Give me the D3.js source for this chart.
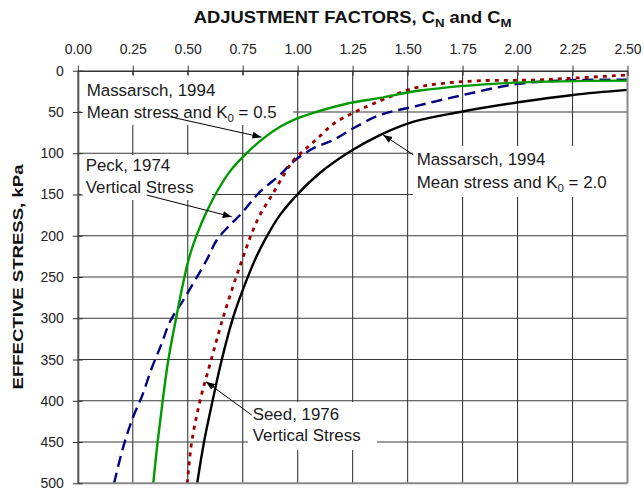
<!DOCTYPE html>
<html>
<head>
<meta charset="utf-8">
<script src="https://cdn.jsdelivr.net/npm/d3@7"></script>
<style>
  html, body { margin: 0; padding: 0; background: #fff; }
  svg { display: block; }
  text { white-space: pre; }
</style>
</head>
<body>
<script>
// Axis ticks: adjustment factor (C_N, C_M) across the top, effective stress (kPa) down the side
const factorTicks = [0, 0.25, 0.5, 0.75, 1.0, 1.25, 1.5, 1.75, 2.0, 2.25, 2.5];
const stressTicks = [0, 50, 100, 150, 200, 250, 300, 350, 400, 450, 500];

// Massarsch (1994), mean stress with K0 = 0.5
const massarsch05Stress = [500, 450, 400, 350, 300, 250, 225, 199, 171, 147, 122, 100, 82, 68, 58, 51, 40, 33, 24, 14.5, 12];
const massarsch05Factor = [0.343, 0.363, 0.386, 0.412, 0.447, 0.485, 0.508, 0.541, 0.586, 0.632, 0.692, 0.768, 0.844, 0.92, 0.995, 1.071, 1.223, 1.374, 1.556, 1.98, 2.5];

// Massarsch (1994), mean stress with K0 = 2.0
const massarsch20Stress = [500, 450, 400, 351, 301, 278, 229, 201, 175, 151, 124, 98, 78, 62, 50, 38, 29.4, 23.3];
const massarsch20Factor = [0.543, 0.574, 0.613, 0.654, 0.704, 0.733, 0.806, 0.859, 0.919, 0.995, 1.101, 1.238, 1.374, 1.524, 1.738, 2.011, 2.252, 2.5];

// Seed (1976), vertical stress
const seedStress = [500, 450, 400, 350, 300, 250, 225, 200, 175, 150, 125, 108, 94, 82, 64, 51, 40, 21.3, 15.3, 12.1, 11.3, 8.8, 5.2];
const seedFactor = [0.498, 0.518, 0.556, 0.607, 0.66, 0.72, 0.753, 0.787, 0.828, 0.885, 0.94, 0.983, 1.04, 1.09, 1.165, 1.253, 1.344, 1.526, 1.662, 1.829, 2.07, 2.269, 2.5];

// Peck (1974), vertical stress
const peckStress = [500, 455.6, 419.3, 395, 360.6, 330.3, 304.2, 277.9, 229.4, 205.2, 187, 174.9, 160.7, 146.6, 126.4, 110.3, 94, 84, 69.8, 53.7, 43.6, 29.4, 16, 11.5, 11];
const peckFactor = [0.165, 0.207, 0.252, 0.291, 0.336, 0.382, 0.419, 0.48, 0.586, 0.632, 0.692, 0.738, 0.783, 0.829, 0.919, 0.98, 1.071, 1.162, 1.253, 1.374, 1.526, 1.753, 2.0, 2.25, 2.5];

// Callout text (segments flagged sub are subscripts)
const noteMassarsch05 = [[{t: "Massarsch, 1994"}], [{t: "Mean stress and K"}, {t: "0", sub: true}, {t: " = 0.5"}]];
const notePeck = [[{t: "Peck, 1974"}], [{t: "Vertical Stress"}]];
const noteMassarsch20 = [[{t: "Massarsch, 1994"}], [{t: "Mean stress and K"}, {t: "0", sub: true}, {t: " = 2.0"}]];
const noteSeed = [[{t: "Seed, 1976"}], [{t: "Vertical Stress"}]];

// Arrow tail and tip for each callout, in [factor, stress]
const arrowMassarsch05 = [[0.419, 55.8], [0.835, 80.5]];
const arrowPeck = [[0.313, 150.7], [0.70, 177]];
const arrowMassarsch20 = [[1.526, 102], [1.389, 77.9]];
const arrowSeed = [[0.791, 417.3], [0.583, 376.9]];

const W = 644, H = 491;
const FONT = "'Liberation Sans', Arial, Helvetica, sans-serif";
const plot = {left: 77.8, right: 627.5, top: 70.7, bottom: 483.3};

const x = d3.scaleLinear().domain([0, 2.5]).range([plot.left, plot.right]);
const y = d3.scaleLinear().domain([0, 500]).range([plot.top, plot.bottom]);

const svg = d3.select("body").append("svg")
  .attr("width", W).attr("height", H)
  .attr("font-family", FONT);

// Grid
const grid = svg.append("g").attr("stroke", "#3a3a3a").attr("stroke-width", 1.1);
grid.selectAll("line.v").data(factorTicks.slice(1, -1)).join("line")
  .attr("class", "v")
  .attr("x1", d => x(d)).attr("x2", d => x(d))
  .attr("y1", y(0)).attr("y2", y(500));
grid.selectAll("line.h").data(stressTicks.slice(1, -1)).join("line")
  .attr("class", "h")
  .attr("x1", x(0)).attr("x2", x(2.5))
  .attr("y1", d => y(d)).attr("y2", d => y(d));

// White callout boxes sit over the grid
const boxes = [
  {x0: 81, y0: 75, x1: 293, y1: 125},
  {x0: 81, y0: 155, x1: 212, y1: 200},
  {x0: 413, y0: 146, x1: 627, y1: 197},
  {x0: 248, y0: 402, x1: 377, y1: 450}
];
svg.append("g").selectAll("rect").data(boxes).join("rect")
  .attr("x", d => d.x0).attr("y", d => d.y0)
  .attr("width", d => d.x1 - d.x0).attr("height", d => d.y1 - d.y0)
  .attr("fill", "#fff");

// Curves
const series = [
  {f: peckFactor, s: peckStress, color: "#000080", width: 2.4, dash: "11,6"},
  {f: seedFactor, s: seedStress, color: "#990000", width: 2.8, dash: "4,5"},
  {f: massarsch20Factor, s: massarsch20Stress, color: "#000000", width: 2.4, dash: null},
  {f: massarsch05Factor, s: massarsch05Stress, color: "#009900", width: 2.4, dash: null}
];
const line = d3.line()
  .x(d => x(d[0])).y(d => y(d[1]))
  .curve(d3.curveCatmullRom.alpha(0.5));
svg.append("g").selectAll("path").data(series).join("path")
  .attr("d", d => line(d.f.map((v, i) => [v, d.s[i]])))
  .attr("fill", "none")
  .attr("stroke", d => d.color)
  .attr("stroke-width", d => d.width)
  .attr("stroke-dasharray", d => d.dash)
  .attr("stroke-linejoin", "round");

// Right and bottom frame
const frame = svg.append("g").attr("stroke", "#888").attr("stroke-width", 2);
frame.append("line").attr("x1", x(2.5)).attr("x2", x(2.5)).attr("y1", y(0)).attr("y2", y(500));
frame.append("line").attr("x1", x(0)).attr("x2", x(2.5)).attr("y1", y(500)).attr("y2", y(500));

// Top axis (factor)
const gTop = svg.append("g").attr("transform", `translate(0,${plot.top})`)
  .call(d3.axisTop(x).tickValues(factorTicks).tickFormat(d3.format(".2f"))
    .tickSize(5).tickSizeOuter(0).tickPadding(12));
gTop.selectAll(".tick line").attr("y1", 5).attr("stroke", "#333");
gTop.select(".domain").attr("stroke", "#333").attr("stroke-width", 1.6);
gTop.selectAll(".tick text").attr("font-family", FONT).attr("font-size", 14).attr("fill", "#222");

// Left axis (stress)
const gLeft = svg.append("g").attr("transform", `translate(${plot.left},0)`)
  .call(d3.axisLeft(y).tickValues(stressTicks).tickFormat(d3.format("d"))
    .tickSize(5).tickSizeOuter(0).tickPadding(9));
gLeft.selectAll(".tick line").attr("x1", 5).attr("stroke", "#333");
gLeft.select(".domain").attr("stroke", "#555").attr("stroke-width", 2);
gLeft.selectAll(".tick text").attr("font-family", FONT).attr("font-size", 14).attr("fill", "#222");

// Text with optional subscripts
function addSegments(textSel, segs, subSize, shift) {
  let down = false;
  segs.forEach(seg => {
    const ts = textSel.append("tspan").text(seg.t);
    if (seg.sub && !down) { ts.attr("dy", shift).attr("font-size", subSize); down = true; }
    else if (!seg.sub && down) { ts.attr("dy", -shift); down = false; }
  });
}

// Axis titles (wide bold lettering)
const title = svg.append("text")
  .attr("text-anchor", "middle")
  .attr("font-weight", "bold").attr("font-size", 16).attr("fill", "#111");
addSegments(title, [{t: "ADJUSTMENT FACTORS, C"}, {t: "N", sub: true}, {t: " and C"}, {t: "M", sub: true}], 11.5, 4);
const titleLen = title.node().getComputedTextLength();
title.attr("transform", `translate(${(plot.left + plot.right) / 2},22.7) scale(${318 / titleLen},1)`);

const yTitle = svg.append("text")
  .attr("text-anchor", "middle")
  .attr("font-weight", "bold").attr("font-size", 14.5).attr("fill", "#111")
  .text("EFFECTIVE STRESS, kPa");
const yTitleLen = yTitle.node().getComputedTextLength();
yTitle.attr("transform", `translate(23.3,${(plot.top + plot.bottom) / 2}) rotate(-90) scale(${225 / yTitleLen},1)`);

// Callouts
const notes = [
  {lines: noteMassarsch05, x: 86.7, y: 96, gap: 21.6},
  {lines: notePeck, x: 85.7, y: 171, gap: 21.7},
  {lines: noteMassarsch20, x: 416.7, y: 165, gap: 23.3},
  {lines: noteSeed, x: 252.7, y: 420, gap: 20.7}
];
notes.forEach(n => {
  n.lines.forEach((segs, i) => {
    const t = svg.append("text")
      .attr("x", n.x).attr("y", n.y + i * n.gap)
      .attr("font-size", 16.9).attr("fill", "#1a1a1a");
    addSegments(t, segs, 11.5, 4);
  });
});

// Arrows
svg.append("defs").append("marker")
  .attr("id", "head")
  .attr("markerUnits", "userSpaceOnUse")
  .attr("markerWidth", 10).attr("markerHeight", 8)
  .attr("refX", 9).attr("refY", 4)
  .attr("orient", "auto")
  .append("path").attr("d", "M0,0.5 L9,4 L0,7.5 Z").attr("fill", "#000");

svg.append("g").selectAll("line").data([arrowMassarsch05, arrowPeck, arrowMassarsch20, arrowSeed]).join("line")
  .attr("x1", d => x(d[0][0])).attr("y1", d => y(d[0][1]))
  .attr("x2", d => x(d[1][0])).attr("y2", d => y(d[1][1]))
  .attr("stroke", "#000").attr("stroke-width", 1)
  .attr("marker-end", "url(#head)");
</script>
</body>
</html>
